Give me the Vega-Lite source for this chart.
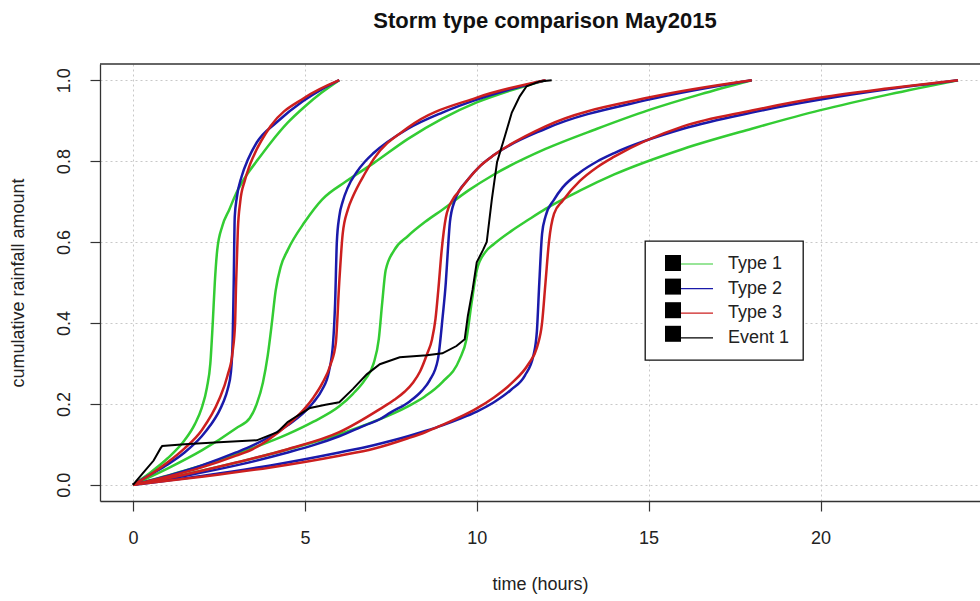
{
  "$schema": "https://vega.github.io/schema/vega-lite/v6.json",
  "width": 880,
  "height": 437,
  "autosize": {"type": "none"},
  "padding": {"left": 100, "top": 64, "right": 0, "bottom": 100},
  "title": {"text": "Storm type comparison May2015", "fontSize": 22, "fontWeight": "bold", "font": "Liberation Sans", "anchor": "middle", "offset": 13, "baseline": "alphabetic", "dx": 5, "color": "#111"},
  "config": {"view": {"stroke": null}, "font": "Liberation Sans"},
  "datasets": {
    "curves": [
      {"series":"Type 1","duration":6,"time":0,"cum":0},{"series":"Type 1","duration":6,"time":0.5,"cum":0.03},{"series":"Type 1","duration":6,"time":1,"cum":0.065},{"series":"Type 1","duration":6,"time":1.5,"cum":0.11},{"series":"Type 1","duration":6,"time":1.8,"cum":0.15},{"series":"Type 1","duration":6,"time":2.0,"cum":0.19},{"series":"Type 1","duration":6,"time":2.15,"cum":0.24},{"series":"Type 1","duration":6,"time":2.25,"cum":0.3},{"series":"Type 1","duration":6,"time":2.32,"cum":0.4},{"series":"Type 1","duration":6,"time":2.38,"cum":0.5},{"series":"Type 1","duration":6,"time":2.45,"cum":0.58},{"series":"Type 1","duration":6,"time":2.6,"cum":0.64},{"series":"Type 1","duration":6,"time":2.8,"cum":0.68},{"series":"Type 1","duration":6,"time":3.0,"cum":0.72},{"series":"Type 1","duration":6,"time":3.3,"cum":0.765},{"series":"Type 1","duration":6,"time":3.6,"cum":0.8},{"series":"Type 1","duration":6,"time":4.0,"cum":0.845},{"series":"Type 1","duration":6,"time":4.5,"cum":0.895},{"series":"Type 1","duration":6,"time":5.0,"cum":0.935},{"series":"Type 1","duration":6,"time":5.5,"cum":0.97},{"series":"Type 1","duration":6,"time":6.0,"cum":1.0},

      {"series":"Type 2","duration":6,"time":0,"cum":0},{"series":"Type 2","duration":6,"time":0.5,"cum":0.025},{"series":"Type 2","duration":6,"time":1,"cum":0.05},{"series":"Type 2","duration":6,"time":1.5,"cum":0.08},{"series":"Type 2","duration":6,"time":2,"cum":0.12},{"series":"Type 2","duration":6,"time":2.25,"cum":0.147},{"series":"Type 2","duration":6,"time":2.5,"cum":0.181},{"series":"Type 2","duration":6,"time":2.625,"cum":0.204},{"series":"Type 2","duration":6,"time":2.75,"cum":0.235},{"series":"Type 2","duration":6,"time":2.85,"cum":0.28},{"series":"Type 2","duration":6,"time":2.9,"cum":0.36},{"series":"Type 2","duration":6,"time":2.93,"cum":0.5},{"series":"Type 2","duration":6,"time":2.96,"cum":0.663},{"series":"Type 2","duration":6,"time":3.02,"cum":0.71},{"series":"Type 2","duration":6,"time":3.16,"cum":0.762},{"series":"Type 2","duration":6,"time":3.35,"cum":0.805},{"series":"Type 2","duration":6,"time":3.6,"cum":0.846},{"series":"Type 2","duration":6,"time":4.18,"cum":0.896},{"series":"Type 2","duration":6,"time":4.94,"cum":0.948},{"series":"Type 2","duration":6,"time":5.5,"cum":0.978},{"series":"Type 2","duration":6,"time":6,"cum":1.0},

      {"series":"Type 3","duration":6,"time":0,"cum":0},{"series":"Type 3","duration":6,"time":0.5,"cum":0.025},{"series":"Type 3","duration":6,"time":1,"cum":0.055},{"series":"Type 3","duration":6,"time":1.5,"cum":0.09},{"series":"Type 3","duration":6,"time":2,"cum":0.135},{"series":"Type 3","duration":6,"time":2.5,"cum":0.21},{"series":"Type 3","duration":6,"time":2.75,"cum":0.27},{"series":"Type 3","duration":6,"time":2.9,"cum":0.33},{"series":"Type 3","duration":6,"time":2.97,"cum":0.4},{"series":"Type 3","duration":6,"time":3.0,"cum":0.5},{"series":"Type 3","duration":6,"time":3.05,"cum":0.63},{"series":"Type 3","duration":6,"time":3.12,"cum":0.7},{"series":"Type 3","duration":6,"time":3.25,"cum":0.751},{"series":"Type 3","duration":6,"time":3.375,"cum":0.785},{"series":"Type 3","duration":6,"time":3.5,"cum":0.811},{"series":"Type 3","duration":6,"time":4,"cum":0.886},{"series":"Type 3","duration":6,"time":5,"cum":0.957},{"series":"Type 3","duration":6,"time":6,"cum":1.0},

      {"series":"Type 1","duration":12,"time":0,"cum":0},{"series":"Type 1","duration":12,"time":1,"cum":0.04},{"series":"Type 1","duration":12,"time":2,"cum":0.085},{"series":"Type 1","duration":12,"time":3,"cum":0.14},{"series":"Type 1","duration":12,"time":3.4,"cum":0.165},{"series":"Type 1","duration":12,"time":3.6,"cum":0.2},{"series":"Type 1","duration":12,"time":3.78,"cum":0.253},{"series":"Type 1","duration":12,"time":3.92,"cum":0.32},{"series":"Type 1","duration":12,"time":4.04,"cum":0.4},{"series":"Type 1","duration":12,"time":4.15,"cum":0.48},{"series":"Type 1","duration":12,"time":4.3,"cum":0.54},{"series":"Type 1","duration":12,"time":4.5,"cum":0.58},{"series":"Type 1","duration":12,"time":5.0,"cum":0.65},{"series":"Type 1","duration":12,"time":5.5,"cum":0.705},{"series":"Type 1","duration":12,"time":6.2,"cum":0.75},{"series":"Type 1","duration":12,"time":7.0,"cum":0.795},{"series":"Type 1","duration":12,"time":8.0,"cum":0.855},{"series":"Type 1","duration":12,"time":9.0,"cum":0.905},{"series":"Type 1","duration":12,"time":10.0,"cum":0.945},{"series":"Type 1","duration":12,"time":11.0,"cum":0.975},{"series":"Type 1","duration":12,"time":12,"cum":1.0},

      {"series":"Type 2","duration":12,"time":0,"cum":0},{"series":"Type 2","duration":12,"time":1,"cum":0.022},{"series":"Type 2","duration":12,"time":2,"cum":0.048},{"series":"Type 2","duration":12,"time":3,"cum":0.08},{"series":"Type 2","duration":12,"time":3.5,"cum":0.098},{"series":"Type 2","duration":12,"time":4,"cum":0.12},{"series":"Type 2","duration":12,"time":4.5,"cum":0.147},{"series":"Type 2","duration":12,"time":5,"cum":0.181},{"series":"Type 2","duration":12,"time":5.25,"cum":0.204},{"series":"Type 2","duration":12,"time":5.5,"cum":0.235},{"series":"Type 2","duration":12,"time":5.7,"cum":0.28},{"series":"Type 2","duration":12,"time":5.82,"cum":0.35},{"series":"Type 2","duration":12,"time":5.88,"cum":0.45},{"series":"Type 2","duration":12,"time":5.93,"cum":0.6},{"series":"Type 2","duration":12,"time":6.0,"cum":0.663},{"series":"Type 2","duration":12,"time":6.1,"cum":0.7},{"series":"Type 2","duration":12,"time":6.25,"cum":0.735},{"series":"Type 2","duration":12,"time":6.5,"cum":0.772},{"series":"Type 2","duration":12,"time":6.75,"cum":0.799},{"series":"Type 2","duration":12,"time":7,"cum":0.82},{"series":"Type 2","duration":12,"time":8,"cum":0.88},{"series":"Type 2","duration":12,"time":9,"cum":0.92},{"series":"Type 2","duration":12,"time":10,"cum":0.952},{"series":"Type 2","duration":12,"time":11,"cum":0.978},{"series":"Type 2","duration":12,"time":12,"cum":1.0},

      {"series":"Type 3","duration":12,"time":0,"cum":0},{"series":"Type 3","duration":12,"time":1,"cum":0.02},{"series":"Type 3","duration":12,"time":2,"cum":0.043},{"series":"Type 3","duration":12,"time":3,"cum":0.072},{"series":"Type 3","duration":12,"time":3.5,"cum":0.089},{"series":"Type 3","duration":12,"time":4,"cum":0.115},{"series":"Type 3","duration":12,"time":4.5,"cum":0.148},{"series":"Type 3","duration":12,"time":5,"cum":0.189},{"series":"Type 3","duration":12,"time":5.25,"cum":0.216},{"series":"Type 3","duration":12,"time":5.5,"cum":0.25},{"series":"Type 3","duration":12,"time":5.75,"cum":0.298},{"series":"Type 3","duration":12,"time":5.9,"cum":0.35},{"series":"Type 3","duration":12,"time":6.0,"cum":0.5},{"series":"Type 3","duration":12,"time":6.1,"cum":0.62},{"series":"Type 3","duration":12,"time":6.25,"cum":0.68},{"series":"Type 3","duration":12,"time":6.4,"cum":0.713},{"series":"Type 3","duration":12,"time":6.75,"cum":0.77},{"series":"Type 3","duration":12,"time":7,"cum":0.805},{"series":"Type 3","duration":12,"time":8,"cum":0.883},{"series":"Type 3","duration":12,"time":10,"cum":0.957},{"series":"Type 3","duration":12,"time":12,"cum":1.0},

      {"series":"Type 1","duration":18,"time":0,"cum":0},{"series":"Type 1","duration":18,"time":1.5,"cum":0.035},{"series":"Type 1","duration":18,"time":3,"cum":0.076},{"series":"Type 1","duration":18,"time":4.5,"cum":0.125},{"series":"Type 1","duration":18,"time":5.25,"cum":0.156},{"series":"Type 1","duration":18,"time":6,"cum":0.194},{"series":"Type 1","duration":18,"time":6.4,"cum":0.225},{"series":"Type 1","duration":18,"time":6.75,"cum":0.26},{"series":"Type 1","duration":18,"time":7.0,"cum":0.3},{"series":"Type 1","duration":18,"time":7.15,"cum":0.36},{"series":"Type 1","duration":18,"time":7.25,"cum":0.45},{"series":"Type 1","duration":18,"time":7.35,"cum":0.53},{"series":"Type 1","duration":18,"time":7.6,"cum":0.58},{"series":"Type 1","duration":18,"time":8.0,"cum":0.615},{"series":"Type 1","duration":18,"time":8.5,"cum":0.65},{"series":"Type 1","duration":18,"time":9,"cum":0.68},{"series":"Type 1","duration":18,"time":9.75,"cum":0.727},{"series":"Type 1","duration":18,"time":10.5,"cum":0.767},{"series":"Type 1","duration":18,"time":12,"cum":0.83},{"series":"Type 1","duration":18,"time":13.5,"cum":0.88},{"series":"Type 1","duration":18,"time":15,"cum":0.926},{"series":"Type 1","duration":18,"time":16.5,"cum":0.965},{"series":"Type 1","duration":18,"time":18,"cum":1.0},

      {"series":"Type 2","duration":18,"time":0,"cum":0},{"series":"Type 2","duration":18,"time":1.5,"cum":0.022},{"series":"Type 2","duration":18,"time":3,"cum":0.048},{"series":"Type 2","duration":18,"time":4.5,"cum":0.08},{"series":"Type 2","duration":18,"time":5.25,"cum":0.098},{"series":"Type 2","duration":18,"time":6,"cum":0.12},{"series":"Type 2","duration":18,"time":6.75,"cum":0.147},{"series":"Type 2","duration":18,"time":7.18,"cum":0.162},{"series":"Type 2","duration":18,"time":7.5,"cum":0.179},{"series":"Type 2","duration":18,"time":8.05,"cum":0.206},{"series":"Type 2","duration":18,"time":8.4,"cum":0.232},{"series":"Type 2","duration":18,"time":8.63,"cum":0.258},{"series":"Type 2","duration":18,"time":8.87,"cum":0.31},{"series":"Type 2","duration":18,"time":9.01,"cum":0.417},{"series":"Type 2","duration":18,"time":9.1,"cum":0.5},{"series":"Type 2","duration":18,"time":9.16,"cum":0.58},{"series":"Type 2","duration":18,"time":9.22,"cum":0.65},{"series":"Type 2","duration":18,"time":9.35,"cum":0.7},{"series":"Type 2","duration":18,"time":9.75,"cum":0.755},{"series":"Type 2","duration":18,"time":10.125,"cum":0.79},{"series":"Type 2","duration":18,"time":10.5,"cum":0.815},{"series":"Type 2","duration":18,"time":12,"cum":0.88},{"series":"Type 2","duration":18,"time":15,"cum":0.952},{"series":"Type 2","duration":18,"time":18,"cum":1.0},

      {"series":"Type 3","duration":18,"time":0,"cum":0},{"series":"Type 3","duration":18,"time":1.5,"cum":0.025},{"series":"Type 3","duration":18,"time":3,"cum":0.055},{"series":"Type 3","duration":18,"time":4.5,"cum":0.088},{"series":"Type 3","duration":18,"time":6,"cum":0.13},{"series":"Type 3","duration":18,"time":7.18,"cum":0.187},{"series":"Type 3","duration":18,"time":7.6,"cum":0.21},{"series":"Type 3","duration":18,"time":7.9,"cum":0.23},{"series":"Type 3","duration":18,"time":8.15,"cum":0.253},{"series":"Type 3","duration":18,"time":8.35,"cum":0.28},{"series":"Type 3","duration":18,"time":8.55,"cum":0.322},{"series":"Type 3","duration":18,"time":8.7,"cum":0.36},{"series":"Type 3","duration":18,"time":8.8,"cum":0.41},{"series":"Type 3","duration":18,"time":8.88,"cum":0.48},{"series":"Type 3","duration":18,"time":8.98,"cum":0.58},{"series":"Type 3","duration":18,"time":9.1,"cum":0.66},{"series":"Type 3","duration":18,"time":9.3,"cum":0.705},{"series":"Type 3","duration":18,"time":9.45,"cum":0.722},{"series":"Type 3","duration":18,"time":9.75,"cum":0.755},{"series":"Type 3","duration":18,"time":10.125,"cum":0.79},{"series":"Type 3","duration":18,"time":10.5,"cum":0.815},{"series":"Type 3","duration":18,"time":12,"cum":0.886},{"series":"Type 3","duration":18,"time":15,"cum":0.957},{"series":"Type 3","duration":18,"time":18,"cum":1.0},

      {"series":"Type 1","duration":24,"time":0,"cum":0},{"series":"Type 1","duration":24,"time":2,"cum":0.035},{"series":"Type 1","duration":24,"time":4,"cum":0.076},{"series":"Type 1","duration":24,"time":6,"cum":0.125},{"series":"Type 1","duration":24,"time":7,"cum":0.156},{"series":"Type 1","duration":24,"time":8,"cum":0.194},{"series":"Type 1","duration":24,"time":8.5,"cum":0.219},{"series":"Type 1","duration":24,"time":9,"cum":0.254},{"series":"Type 1","duration":24,"time":9.5,"cum":0.31},{"series":"Type 1","duration":24,"time":9.7,"cum":0.36},{"series":"Type 1","duration":24,"time":9.85,"cum":0.45},{"series":"Type 1","duration":24,"time":10.0,"cum":0.53},{"series":"Type 1","duration":24,"time":10.25,"cum":0.575},{"series":"Type 1","duration":24,"time":10.5,"cum":0.595},{"series":"Type 1","duration":24,"time":11,"cum":0.627},{"series":"Type 1","duration":24,"time":11.5,"cum":0.655},{"series":"Type 1","duration":24,"time":12,"cum":0.682},{"series":"Type 1","duration":24,"time":13,"cum":0.727},{"series":"Type 1","duration":24,"time":14,"cum":0.767},{"series":"Type 1","duration":24,"time":16,"cum":0.83},{"series":"Type 1","duration":24,"time":18,"cum":0.88},{"series":"Type 1","duration":24,"time":20,"cum":0.926},{"series":"Type 1","duration":24,"time":22,"cum":0.965},{"series":"Type 1","duration":24,"time":24,"cum":1.0},

      {"series":"Type 2","duration":24,"time":0,"cum":0},{"series":"Type 2","duration":24,"time":2,"cum":0.022},{"series":"Type 2","duration":24,"time":4,"cum":0.048},{"series":"Type 2","duration":24,"time":6,"cum":0.08},{"series":"Type 2","duration":24,"time":7,"cum":0.098},{"series":"Type 2","duration":24,"time":8,"cum":0.12},{"series":"Type 2","duration":24,"time":8.5,"cum":0.133},{"series":"Type 2","duration":24,"time":9,"cum":0.147},{"series":"Type 2","duration":24,"time":9.5,"cum":0.163},{"series":"Type 2","duration":24,"time":10,"cum":0.181},{"series":"Type 2","duration":24,"time":10.5,"cum":0.204},{"series":"Type 2","duration":24,"time":11,"cum":0.235},{"series":"Type 2","duration":24,"time":11.4,"cum":0.27},{"series":"Type 2","duration":24,"time":11.65,"cum":0.32},{"series":"Type 2","duration":24,"time":11.75,"cum":0.38},{"series":"Type 2","duration":24,"time":11.82,"cum":0.5},{"series":"Type 2","duration":24,"time":11.9,"cum":0.62},{"series":"Type 2","duration":24,"time":12.0,"cum":0.663},{"series":"Type 2","duration":24,"time":12.25,"cum":0.705},{"series":"Type 2","duration":24,"time":12.5,"cum":0.735},{"series":"Type 2","duration":24,"time":13,"cum":0.772},{"series":"Type 2","duration":24,"time":13.5,"cum":0.799},{"series":"Type 2","duration":24,"time":14,"cum":0.82},{"series":"Type 2","duration":24,"time":16,"cum":0.88},{"series":"Type 2","duration":24,"time":18,"cum":0.92},{"series":"Type 2","duration":24,"time":20,"cum":0.952},{"series":"Type 2","duration":24,"time":22,"cum":0.978},{"series":"Type 2","duration":24,"time":24,"cum":1.0},

      {"series":"Type 3","duration":24,"time":0,"cum":0},{"series":"Type 3","duration":24,"time":2,"cum":0.02},{"series":"Type 3","duration":24,"time":4,"cum":0.043},{"series":"Type 3","duration":24,"time":6,"cum":0.072},{"series":"Type 3","duration":24,"time":7,"cum":0.089},{"series":"Type 3","duration":24,"time":8,"cum":0.115},{"series":"Type 3","duration":24,"time":8.5,"cum":0.13},{"series":"Type 3","duration":24,"time":9,"cum":0.148},{"series":"Type 3","duration":24,"time":9.5,"cum":0.167},{"series":"Type 3","duration":24,"time":10,"cum":0.189},{"series":"Type 3","duration":24,"time":10.5,"cum":0.216},{"series":"Type 3","duration":24,"time":11,"cum":0.25},{"series":"Type 3","duration":24,"time":11.5,"cum":0.298},{"series":"Type 3","duration":24,"time":11.75,"cum":0.339},{"series":"Type 3","duration":24,"time":11.9,"cum":0.4},{"series":"Type 3","duration":24,"time":12.0,"cum":0.5},{"series":"Type 3","duration":24,"time":12.1,"cum":0.6},{"series":"Type 3","duration":24,"time":12.25,"cum":0.67},{"series":"Type 3","duration":24,"time":12.5,"cum":0.702},{"series":"Type 3","duration":24,"time":13,"cum":0.751},{"series":"Type 3","duration":24,"time":13.5,"cum":0.785},{"series":"Type 3","duration":24,"time":14,"cum":0.811},{"series":"Type 3","duration":24,"time":16,"cum":0.886},{"series":"Type 3","duration":24,"time":18,"cum":0.925},{"series":"Type 3","duration":24,"time":20,"cum":0.957},{"series":"Type 3","duration":24,"time":22,"cum":0.98},{"series":"Type 3","duration":24,"time":24,"cum":1.0},

      {"series":"Event 1","duration":12,"time":0,"cum":0},{"series":"Event 1","duration":12,"time":0.3,"cum":0.03},{"series":"Event 1","duration":12,"time":0.6,"cum":0.06},{"series":"Event 1","duration":12,"time":0.8,"cum":0.09},{"series":"Event 1","duration":12,"time":0.85,"cum":0.096},{"series":"Event 1","duration":12,"time":1.5,"cum":0.1},{"series":"Event 1","duration":12,"time":2.5,"cum":0.105},{"series":"Event 1","duration":12,"time":3.6,"cum":0.11},{"series":"Event 1","duration":12,"time":4.2,"cum":0.13},{"series":"Event 1","duration":12,"time":4.5,"cum":0.155},{"series":"Event 1","duration":12,"time":4.77,"cum":0.17},{"series":"Event 1","duration":12,"time":5.15,"cum":0.19},{"series":"Event 1","duration":12,"time":5.6,"cum":0.198},{"series":"Event 1","duration":12,"time":6.0,"cum":0.204},{"series":"Event 1","duration":12,"time":6.4,"cum":0.237},{"series":"Event 1","duration":12,"time":6.8,"cum":0.273},{"series":"Event 1","duration":12,"time":7.18,"cum":0.298},{"series":"Event 1","duration":12,"time":7.76,"cum":0.315},{"series":"Event 1","duration":12,"time":8.55,"cum":0.32},{"series":"Event 1","duration":12,"time":9.0,"cum":0.325},{"series":"Event 1","duration":12,"time":9.41,"cum":0.343},{"series":"Event 1","duration":12,"time":9.65,"cum":0.36},{"series":"Event 1","duration":12,"time":9.74,"cum":0.417},{"series":"Event 1","duration":12,"time":9.88,"cum":0.483},{"series":"Event 1","duration":12,"time":10.0,"cum":0.55},{"series":"Event 1","duration":12,"time":10.18,"cum":0.58},{"series":"Event 1","duration":12,"time":10.29,"cum":0.6},{"series":"Event 1","duration":12,"time":10.44,"cum":0.706},{"series":"Event 1","duration":12,"time":10.59,"cum":0.797},{"series":"Event 1","duration":12,"time":10.82,"cum":0.862},{"series":"Event 1","duration":12,"time":11.02,"cum":0.92},{"series":"Event 1","duration":12,"time":11.25,"cum":0.96},{"series":"Event 1","duration":12,"time":11.45,"cum":0.985},{"series":"Event 1","duration":12,"time":11.83,"cum":0.997},{"series":"Event 1","duration":12,"time":12.18,"cum":1.0}
    ]
  },
  "layer": [
    {
      "data": {"values": [{}]},
      "mark": {"type": "rule", "color": "#333", "strokeWidth": 1.3},
      "encoding": {"y": {"datum": 1.04, "type": "quantitative", "scale": {"domain": [-0.04, 1.04], "nice": false, "zero": false}}}
    },
    {
      "data": {"name": "curves"},
      "encoding": {
        "x": {"field": "time", "type": "quantitative",
          "scale": {"domain": [-0.96, 24.64], "nice": false, "zero": false},
          "axis": {"values": [0, 5, 10, 15, 20], "grid": true, "gridColor": "#c8c8c8", "gridDash": [2, 3], "gridWidth": 1,
            "domainColor": "#333", "domainWidth": 1.3, "tickColor": "#333", "tickSize": 10, "tickWidth": 1.2,
            "labelFontSize": 18, "labelColor": "#222", "labelPadding": 18, "labelFlush": false,
            "title": "time (hours)", "titleFontSize": 18, "titleFontWeight": "normal", "titleColor": "#222", "titlePadding": 28}},
        "y": {"field": "cum", "type": "quantitative",
          "scale": {"domain": [-0.04, 1.04], "nice": false, "zero": false},
          "axis": {"values": [0, 0.2, 0.4, 0.6, 0.8, 1.0], "format": ".1f", "grid": true, "gridColor": "#c8c8c8", "gridDash": [2, 3], "gridWidth": 1,
            "domainColor": "#333", "domainWidth": 1.3, "tickColor": "#333", "tickSize": 10, "tickWidth": 1.2,
            "labelFontSize": 18, "labelColor": "#222", "labelPadding": 17, "labelFlush": false,
            "labelAngle": 270, "labelAlign": "center", "labelBaseline": "bottom",
            "title": "cumulative rainfall amount", "titleFontSize": 18, "titleFontWeight": "normal", "titleColor": "#222", "titlePadding": 28}},
        "color": {"field": "series", "type": "nominal",
          "scale": {"domain": ["Type 1", "Type 2", "Type 3", "Event 1"], "range": ["#33cc33", "#1a1aaa", "#cc1f1f", "#000000"]},
          "legend": {"orient": "top-right", "offset": 177, "title": null, "strokeColor": "#111", "fillColor": "white",
            "padding": 13, "cornerRadius": 0, "symbolType": "M0.67,0H5", "symbolSize": 324, "symbolStrokeWidth": 1.2,
            "labelFontSize": 18, "labelFont": "Liberation Sans", "labelColor": "#222", "labelOffset": 50, "rowPadding": 5.6, "labelLimit": 200,
            "encode": {"legend": {"update": {"strokeWidth": {"value": 1.3}}}}}},
        "opacity": {"field": "series", "type": "nominal",
          "scale": {"domain": ["Type 1", "Type 2", "Type 3", "Event 1"], "range": [1, 1, 1, 1]},
          "legend": {"orient": "none", "legendX": 564, "legendY": 190, "title": null, "padding": 0,
            "symbolType": "square", "symbolSize": 256, "symbolStrokeWidth": 0, "labelExpr": "''", "labelFontSize": 18, "rowPadding": 5.6,
            "encode": {"symbols": {"update": {"fill": {"value": "black"}, "stroke": {"value": "black"}, "opacity": {"value": 1}}}}}},
        "detail": {"field": "duration", "type": "nominal"}
      },
      "layer": [
        {"transform": [{"filter": "datum.series === 'Type 1'"}], "mark": {"type": "line", "interpolate": "monotone", "strokeWidth": 2.5}},
        {"transform": [{"filter": "datum.series === 'Type 2'"}], "mark": {"type": "line", "interpolate": "monotone", "strokeWidth": 2.5}},
        {"transform": [{"filter": "datum.series === 'Type 3'"}], "mark": {"type": "line", "interpolate": "monotone", "strokeWidth": 2.5}},
        {"transform": [{"filter": "datum.series === 'Event 1'"}], "mark": {"type": "line", "interpolate": "linear", "strokeWidth": 2}}
      ]
    }
  ]
}
